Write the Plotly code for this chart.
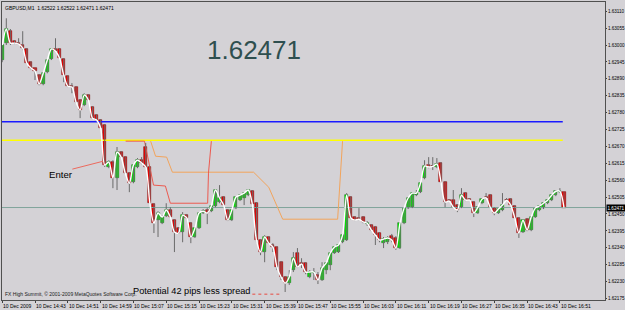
import plotly.graph_objects as go

# ---------------- data (GBPUSD M1, 10 Dec 2009, 14:35 .. 16:52) ----------------
opens = [
    1.62951, 1.63006, 1.63045, 1.63013, 1.63006, 1.63000, 1.62987, 1.62944, 1.62925, 1.62902,
    1.62873, 1.62912, 1.62954, 1.62987, 1.62987, 1.62954, 1.62899, 1.62866, 1.62863, 1.62821,
    1.62804, 1.62837, 1.62798, 1.62772, 1.62756, 1.62739, 1.62603, 1.62619, 1.62567, 1.62651,
    1.62635, 1.62583, 1.62554, 1.62603, 1.62625, 1.62668, 1.62603, 1.62482, 1.62430, 1.62420,
    1.62443, 1.62463, 1.62430, 1.62404, 1.62391, 1.62446, 1.62420, 1.62375, 1.62404, 1.62453,
    1.62463, 1.62459, 1.62476, 1.62489, 1.62505, 1.62463, 1.62430, 1.62469, 1.62495, 1.62502,
    1.62511, 1.62524, 1.62485, 1.62365, 1.62326, 1.62375, 1.62349, 1.62342, 1.62293, 1.62245,
    1.62225, 1.62267, 1.62323, 1.62290, 1.62290, 1.62245, 1.62258, 1.62251, 1.62235, 1.62267,
    1.62284, 1.62323, 1.62326, 1.62358, 1.62365, 1.62505, 1.62440, 1.62437, 1.62440, 1.62417,
    1.62414, 1.62407, 1.62388, 1.62355, 1.62358, 1.62378, 1.62372, 1.62339, 1.62420, 1.62469,
    1.62472, 1.62511, 1.62521, 1.62567, 1.62609, 1.62606, 1.62603, 1.62616, 1.62554, 1.62495,
    1.62495, 1.62479, 1.62472, 1.62518, 1.62498, 1.62489, 1.62453, 1.62485, 1.62505, 1.62511,
    1.62469, 1.62453, 1.62463, 1.62495, 1.62498, 1.62476, 1.62437, 1.62391, 1.62433, 1.62398,
    1.62440, 1.62463, 1.62469, 1.62485, 1.62495, 1.62511, 1.62521, 1.62522]
highs = [
    1.63003, 1.63087, 1.63052, 1.63016, 1.63022, 1.63045, 1.62990, 1.62947, 1.62926, 1.62905,
    1.62912, 1.62954, 1.62990, 1.63022, 1.62990, 1.62957, 1.62902, 1.62876, 1.62866, 1.62824,
    1.62843, 1.62840, 1.62801, 1.62775, 1.62759, 1.62743, 1.62625, 1.62625, 1.62668, 1.62655,
    1.62638, 1.62586, 1.62612, 1.62632, 1.62635, 1.62681, 1.62606, 1.62485, 1.62459, 1.62446,
    1.62485, 1.62472, 1.62433, 1.62407, 1.62456, 1.62450, 1.62424, 1.62407, 1.62456, 1.62466,
    1.62469, 1.62479, 1.62531, 1.62544, 1.62508, 1.62466, 1.62466, 1.62508, 1.62515, 1.62521,
    1.62531, 1.62528, 1.62489, 1.62368, 1.62381, 1.62378, 1.62355, 1.62345, 1.62297, 1.62248,
    1.62267, 1.62326, 1.62339, 1.62306, 1.62293, 1.62267, 1.62274, 1.62261, 1.62293, 1.62293,
    1.62326, 1.62345, 1.62352, 1.62388, 1.62518, 1.62508, 1.62443, 1.62469, 1.62443, 1.62427,
    1.62417, 1.62411, 1.62391, 1.62375, 1.62378, 1.62385, 1.62378, 1.62424, 1.62472, 1.62505,
    1.62521, 1.62528, 1.62554, 1.62625, 1.62635, 1.62635, 1.62632, 1.62619, 1.62557, 1.62498,
    1.62528, 1.62482, 1.62534, 1.62521, 1.62502, 1.62492, 1.62476, 1.62502, 1.62518, 1.62515,
    1.62472, 1.62469, 1.62518, 1.62502, 1.62502, 1.62479, 1.62440, 1.62433, 1.62437, 1.62443,
    1.62472, 1.62479, 1.62489, 1.62498, 1.62515, 1.62528, 1.62534, 1.62522]
lows = [
    1.62944, 1.63000, 1.63000, 1.63003, 1.63000, 1.62983, 1.62938, 1.62921, 1.62886, 1.62869,
    1.62869, 1.62908, 1.62951, 1.62977, 1.62954, 1.62879, 1.62863, 1.62843, 1.62811, 1.62762,
    1.62801, 1.62817, 1.62759, 1.62752, 1.62726, 1.62603, 1.62599, 1.62534, 1.62528, 1.62632,
    1.62580, 1.62521, 1.62550, 1.62599, 1.62612, 1.62599, 1.62482, 1.62388, 1.62375, 1.62417,
    1.62440, 1.62437, 1.62326, 1.62385, 1.62358, 1.62433, 1.62355, 1.62372, 1.62401, 1.62450,
    1.62417, 1.62456, 1.62472, 1.62485, 1.62476, 1.62427, 1.62427, 1.62466, 1.62492, 1.62479,
    1.62508, 1.62479, 1.62358, 1.62316, 1.62293, 1.62352, 1.62326, 1.62267, 1.62235, 1.62196,
    1.62219, 1.62261, 1.62274, 1.62274, 1.62254, 1.62241, 1.62235, 1.62222, 1.62232, 1.62254,
    1.62267, 1.62320, 1.62323, 1.62355, 1.62362, 1.62433, 1.62427, 1.62430, 1.62420, 1.62411,
    1.62394, 1.62349, 1.62358, 1.62339, 1.62352, 1.62358, 1.62333, 1.62336, 1.62417, 1.62466,
    1.62469, 1.62508, 1.62518, 1.62563, 1.62599, 1.62593, 1.62599, 1.62550, 1.62472, 1.62489,
    1.62469, 1.62456, 1.62469, 1.62492, 1.62492, 1.62440, 1.62450, 1.62482, 1.62498, 1.62469,
    1.62446, 1.62450, 1.62459, 1.62492, 1.62476, 1.62433, 1.62372, 1.62388, 1.62394, 1.62394,
    1.62437, 1.62459, 1.62466, 1.62482, 1.62492, 1.62508, 1.62518, 1.62471]
closes = [
    1.63000, 1.63052, 1.63006, 1.63006, 1.63003, 1.62990, 1.62941, 1.62925, 1.62915, 1.62873,
    1.62908, 1.62951, 1.62987, 1.62980, 1.62957, 1.62902, 1.62866, 1.62863, 1.62814, 1.62788,
    1.62837, 1.62821, 1.62762, 1.62756, 1.62730, 1.62609, 1.62619, 1.62567, 1.62651, 1.62635,
    1.62583, 1.62550, 1.62609, 1.62625, 1.62616, 1.62603, 1.62485, 1.62420, 1.62453, 1.62440,
    1.62463, 1.62440, 1.62391, 1.62388, 1.62446, 1.62437, 1.62375, 1.62404, 1.62453, 1.62459,
    1.62453, 1.62476, 1.62528, 1.62502, 1.62479, 1.62430, 1.62463, 1.62505, 1.62511, 1.62518,
    1.62528, 1.62482, 1.62365, 1.62326, 1.62375, 1.62355, 1.62342, 1.62277, 1.62245, 1.62225,
    1.62245, 1.62306, 1.62277, 1.62287, 1.62261, 1.62261, 1.62261, 1.62235, 1.62274, 1.62290,
    1.62323, 1.62342, 1.62349, 1.62381, 1.62511, 1.62437, 1.62430, 1.62433, 1.62424, 1.62420,
    1.62398, 1.62381, 1.62365, 1.62368, 1.62372, 1.62365, 1.62339, 1.62420, 1.62469, 1.62502,
    1.62518, 1.62518, 1.62550, 1.62606, 1.62603, 1.62605, 1.62612, 1.62554, 1.62489, 1.62492,
    1.62472, 1.62463, 1.62511, 1.62495, 1.62495, 1.62453, 1.62472, 1.62498, 1.62502, 1.62472,
    1.62453, 1.62466, 1.62479, 1.62494, 1.62479, 1.62437, 1.62388, 1.62430, 1.62398, 1.62440,
    1.62469, 1.62476, 1.62485, 1.62495, 1.62511, 1.62524, 1.62524, 1.62471]
bars = list(range(len(closes)))

# time-axis labels (every 8 one-minute bars)
time_tick_bars = [0, 8, 16, 24, 32, 40, 48, 56, 64, 72, 80, 88, 96, 104, 112, 120, 128, 136]
time_tick_labels = ["10 Dec 2009", "10 Dec 14:43", "10 Dec 14:51", "10 Dec 14:59", "10 Dec 15:07",
                    "10 Dec 15:15", "10 Dec 15:23", "10 Dec 15:31", "10 Dec 15:39", "10 Dec 15:47",
                    "10 Dec 15:55", "10 Dec 16:03", "10 Dec 16:11", "10 Dec 16:19", "10 Dec 16:27",
                    "10 Dec 16:35", "10 Dec 16:43", "10 Dec 16:51"]
price_ticks = [1.62175, 1.62230, 1.62285, 1.62340, 1.62395, 1.62450, 1.62505, 1.62560,
               1.62615, 1.62670, 1.62725, 1.62780, 1.62835, 1.62890, 1.62945, 1.63000,
               1.63055, 1.63110]

# levels / stop lines
blue_level = 1.62750
yellow_level = 1.62690
last_price = 1.62471
red_stop_x = [30.1, 34.7, 36.9, 39.8, 41.0, 50.1, 50.3, 51.0]
red_stop_y = [1.62687, 1.62687, 1.62544, 1.62541, 1.62485, 1.62485, 1.62583, 1.62687]
orange_stop_x = [36.2, 37.4, 40.1, 41.5, 61.3, 65.0, 68.4, 81.8, 83.0]
orange_stop_y = [1.62687, 1.62638, 1.62635, 1.62586, 1.62586, 1.62537, 1.62433, 1.62433, 1.62687]
enter_x = [17.1, 24.7]
enter_y = [1.62596, 1.62622]
potential_x = [61.0, 67.9]
potential_y = [1.62189, 1.62189]

BG = "#d4d2d6"
FONT = "Liberation Sans, Arial, sans-serif"

fig = go.Figure()

# horizontal levels
fig.add_trace(go.Scatter(x=[-1, 136.7], y=[blue_level, blue_level], mode="lines",
                         line=dict(color="#1a1aff", width=1.6), hoverinfo="skip"))
fig.add_trace(go.Scatter(x=[-1, 136.7], y=[yellow_level, yellow_level], mode="lines",
                         line=dict(color="#ffff00", width=1.6), hoverinfo="skip"))
fig.add_trace(go.Scatter(x=[-1, 150], y=[last_price, last_price], mode="lines",
                         line=dict(color="#80a49b", width=1), hoverinfo="skip"))

# stop lines
fig.add_trace(go.Scatter(x=orange_stop_x, y=orange_stop_y, mode="lines",
                         line=dict(color="#f2a45c", width=1), hoverinfo="skip"))
fig.add_trace(go.Scatter(x=red_stop_x, y=red_stop_y, mode="lines",
                         line=dict(color="#ec5a50", width=1), hoverinfo="skip"))
fig.add_trace(go.Scatter(x=enter_x, y=enter_y, mode="lines",
                         line=dict(color="#ec6a5e", width=1), hoverinfo="skip"))
fig.add_trace(go.Scatter(x=potential_x, y=potential_y, mode="lines",
                         line=dict(color="#e84a40", width=1, dash="dot"), hoverinfo="skip"))

# candle wicks (built from the OHLC lists)
wick_x, wick_y = [], []
for i in bars:
    wick_x += [i, i, None]
    wick_y += [lows[i], highs[i], None]
fig.add_trace(go.Scatter(x=wick_x, y=wick_y, mode="lines",
                         line=dict(color="#6a6a6a", width=1), hoverinfo="skip"))

# candle bodies
body_base = [min(o, c) for o, c in zip(opens, closes)]
body_len = [max(abs(c - o), 0.000022) for o, c in zip(opens, closes)]
body_col = ["#00f000" if c >= o else "#f00000" for o, c in zip(opens, closes)]
body_edge = ["#2a6a2a" if c >= o else "#7a1a1a" for o, c in zip(opens, closes)]
fig.add_trace(go.Bar(x=bars, y=body_len, base=body_base, width=0.74,
                     marker=dict(color=body_col, line=dict(color=body_edge, width=0.6)),
                     hoverinfo="skip"))

# white smoothed close line
fig.add_trace(go.Scatter(x=bars, y=closes, mode="lines",
                         line=dict(color="white", width=1.4, shape="spline", smoothing=0.8),
                         hoverinfo="skip"))

annotations = []
for b, t in zip(time_tick_bars, time_tick_labels):
    annotations.append(dict(x=b, y=0, xref="x", yref="paper", text=t, showarrow=False,
                            xanchor="left", yanchor="top", xshift=-1, yshift=-1,
                            font=dict(family=FONT, size=5, color="black")))
annotations += [
    dict(x=0, y=1, xref="paper", yref="paper", text="GBPUSD,M1  1.62522 1.62522 1.62471 1.62471",
         showarrow=False, xanchor="left", yanchor="top", xshift=1, yshift=-1,
         font=dict(family=FONT, size=5, color="black")),
    dict(x=0, y=0, xref="paper", yref="paper",
         text="FX High Summit, © 2001-2009 MetaQuotes Software Corp.",
         showarrow=False, xanchor="left", yanchor="bottom", xshift=1, yshift=1,
         font=dict(family=FONT, size=5, color="#202020")),
    dict(x=61.3, y=1.62983, xref="x", yref="y", text="1.62471", showarrow=False,
         xanchor="center", yanchor="middle", font=dict(family=FONT, size=26, color="#2f4f4f")),
    dict(x=11.0, y=1.62580, xref="x", yref="y", text="Enter", showarrow=False,
         xanchor="left", yanchor="middle", font=dict(family=FONT, size=9.6, color="black")),
    dict(x=31.5, y=1.62199, xref="x", yref="y", text="Potential 42 pips less spread", showarrow=False,
         xanchor="left", yanchor="middle", font=dict(family=FONT, size=9.2, color="black")),
    dict(x=1, y=last_price, xref="paper", yref="y", text="1.62471", showarrow=False,
         xanchor="left", yanchor="middle", xshift=1, bgcolor="black", borderpad=0.5,
         font=dict(family=FONT, size=4.6, color="white")),
]

fig.update_layout(
    width=625, height=310,
    margin=dict(l=2, r=20, t=2, b=10, pad=0),
    paper_bgcolor=BG, plot_bgcolor=BG,
    showlegend=False, bargap=0,
    annotations=annotations,
    font=dict(family=FONT, size=5, color="black"),
    xaxis=dict(range=[-0.05, 147.0], showgrid=False, zeroline=False,
               tickvals=time_tick_bars, ticks="outside", ticklen=2, tickcolor="#404040",
               showticklabels=False, showline=True, linecolor="#505050", linewidth=1,
               mirror=True, automargin=False),
    yaxis=dict(range=[1.62170, 1.63140], side="right", showgrid=False, zeroline=False,
               tickvals=price_ticks, ticktext=[f"{v:.5f}" for v in price_ticks],
               ticks="outside", ticklen=1, tickcolor="#404040",
               tickfont=dict(family=FONT, size=4.6, color="black"),
               showline=True, linecolor="#505050", linewidth=1, mirror=True,
               automargin=False),
)

fig.write_html("out.html")
